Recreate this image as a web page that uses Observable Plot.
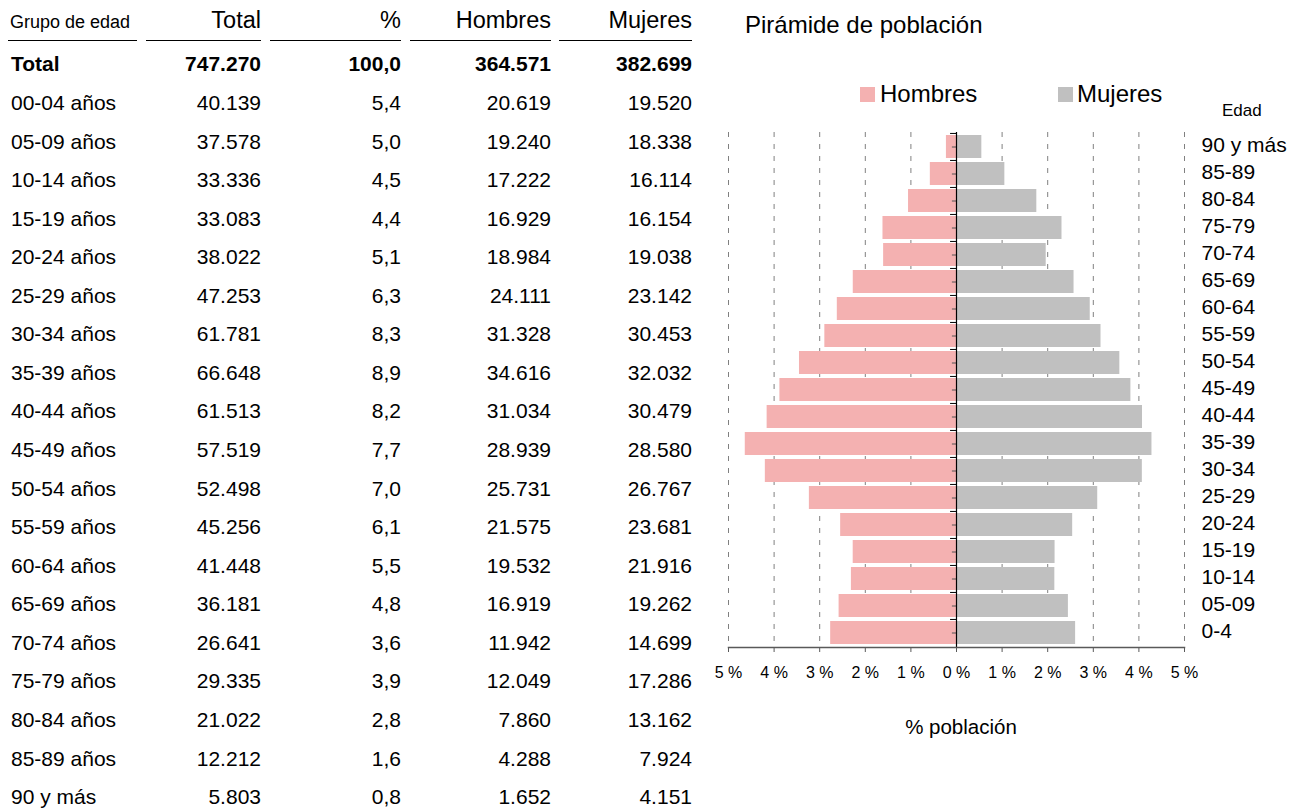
<!DOCTYPE html>
<html><head><meta charset="utf-8">
<script src="https://cdn.jsdelivr.net/npm/d3@7"></script>
<script src="https://cdn.jsdelivr.net/npm/@observablehq/plot@0.6"></script>
<style>
body{margin:0;background:#fff;font-family:"Liberation Sans",Arial,sans-serif;color:#000}
#wrap{position:relative;width:1307px;height:809px;overflow:hidden;background:#fff}
.t{position:absolute;white-space:nowrap;line-height:1;transform:translateY(-50%)}
.ul{position:absolute;height:0;border-top:1.5px solid #000}
#pyr{position:absolute;left:700px;top:120px}
.sw{position:absolute;width:15px;height:15px}
</style></head><body><div id="wrap"><div id="pyr"></div></div>
<script>
// ---- data ----
const grupos = ["00-04 años","05-09 años","10-14 años","15-19 años","20-24 años","25-29 años","30-34 años","35-39 años","40-44 años","45-49 años","50-54 años","55-59 años","60-64 años","65-69 años","70-74 años","75-79 años","80-84 años","85-89 años","90 y más"];
const total   = [40139,37578,33336,33083,38022,47253,61781,66648,61513,57519,52498,45256,41448,36181,26641,29335,21022,12212,5803];
const pct     = [5.4,5.0,4.5,4.4,5.1,6.3,8.3,8.9,8.2,7.7,7.0,6.1,5.5,4.8,3.6,3.9,2.8,1.6,0.8];
const hombres = [20619,19240,17222,16929,18984,24111,31328,34616,31034,28939,25731,21575,19532,16919,11942,12049,7860,4288,1652];
const mujeres = [19520,18338,16114,16154,19038,23142,30453,32032,30479,28580,26767,23681,21916,19262,14699,17286,13162,7924,4151];
const totalGeneral = 747270, pctGeneral = 100.0, hombresTotal = 364571, mujeresTotal = 382699;
const encabezados = ["Grupo de edad","Total","%","Hombres","Mujeres"];
const edades = ["0-4","05-09","10-14","15-19","20-24","25-29","30-34","35-39","40-44","45-49","50-54","55-59","60-64","65-69","70-74","75-79","80-84","85-89","90 y más"];
const sexos = ["Hombres","Mujeres"];
const xTicks = [-5,-4,-3,-2,-1,0,1,2,3,4,5];

// ---- table ----
const loc = d3.formatLocale({decimal:",",thousands:".",grouping:[3],currency:["",""]});
const fInt = loc.format(",d"), fPct = loc.format(",.1f");
const wrap = document.getElementById("wrap");
function txt(s, o){
  const d = document.createElement("div"); d.className="t"; d.textContent = s;
  if (o.right!=null) d.style.right = (1307-o.right)+"px"; else d.style.left = o.left+"px";
  d.style.top = o.y+"px"; d.style.fontSize = o.size+"px";
  if (o.bold) d.style.fontWeight = "bold";
  if (o.anchor==="middle"){ d.style.left = o.cx+"px"; d.style.transform="translate(-50%,-50%)"; }
  wrap.appendChild(d); return d;
}
const colRight = [null,261,401,551,692];
const ulSeg = [[8,137],[146,261],[270,401],[410,551],[559,692]];
txt(encabezados[0],{left:10,y:22,size:18});
for (let c=1;c<5;c++) txt(encabezados[c],{right:colRight[c],y:21,size:23.5});
ulSeg.forEach(([a,b])=>{const u=document.createElement("div");u.className="ul";u.style.left=a+"px";u.style.width=(b-a)+"px";u.style.top="40px";wrap.appendChild(u);});
const rowY = i => 102 + i*38.56;
txt("Total",{left:11,y:63,size:21,bold:true});
[fInt(totalGeneral),fPct(pctGeneral),fInt(hombresTotal),fInt(mujeresTotal)].forEach((s,k)=>txt(s,{right:colRight[k+1],y:63,size:21,bold:true}));
grupos.forEach((g,i)=>{
  const y = rowY(i);
  txt(g,{left:11,y,size:21});
  txt(fInt(total[i]),{right:colRight[1],y,size:21});
  txt(fPct(pct[i]),{right:colRight[2],y,size:21});
  txt(fInt(hombres[i]),{right:colRight[3],y,size:21});
  txt(fInt(mujeres[i]),{right:colRight[4],y,size:21});
});

// ---- pyramid titles / legend ----
txt("Pirámide de población",{left:745,y:25,size:24});
const colores = ["#F4B1B1","#C0C0C0"];
[[860,880],[1058,1077]].forEach(([sx,tx],k)=>{
  const s=document.createElement("div");s.className="sw";s.style.left=sx+"px";s.style.top="87px";s.style.background=colores[k];wrap.appendChild(s);
  txt(sexos[k],{left:tx,y:94,size:24});
});
txt("Edad",{left:1222,y:110,size:17});
txt("% población",{anchor:"middle",cx:961,y:727,size:20.5});

// ---- pyramid ----
const W=607,H=568,mT=12,mB=41,mL=28,mR=123;
const step=(H-mT-mB)/edades.length;
const datos = edades.flatMap((e,i)=>[
  {edad:e, sexo:sexos[0], v:-hombres[i]/totalGeneral*100},
  {edad:e, sexo:sexos[1], v: mujeres[i]/totalGeneral*100}
]);
const yDomain = edades.slice().reverse();
const chart = Plot.plot({
  width:W,height:H,marginTop:mT,marginBottom:mB,marginLeft:mL,marginRight:mR,
  style:{fontFamily:"Liberation Sans, Arial, sans-serif",fontSize:"15px",color:"#000",background:"#fff",overflow:"visible"},
  x:{domain:[-5,5]},
  y:{domain:yDomain,paddingInner:0.16,paddingOuter:0.08},
  color:{domain:sexos,range:colores},
  marks:[
    Plot.ruleX(xTicks.filter(d=>d!==0),{stroke:"#808080",strokeDasharray:"5,7",strokeWidth:1}),
    Plot.barX(datos,{x:"v",y:"edad",fill:"sexo"}),
    Plot.ruleY(edades,{y:d=>d,x1:-0.09,x2:0,stroke:"#555"}),
    Plot.ruleY(edades,{y:d=>d,x1:-0.13,x2:0,stroke:"#000",dy:-step/2}),
    Plot.ruleX([0],{stroke:"#000",strokeWidth:1.2}),
    Plot.frame({anchor:"bottom",stroke:"#595959",strokeWidth:1.5}),
    Plot.axisX({ticks:xTicks,tickFormat:d=>Math.abs(d)+" %",tickSize:5,tickPadding:14,fontSize:16,stroke:"#595959",label:null}),
    Plot.axisY({anchor:"right",tickSize:0,tickPadding:17,fontSize:21,dy:-1.5,label:null})
  ]
});
document.getElementById("pyr").appendChild(chart);
</script></body></html>
